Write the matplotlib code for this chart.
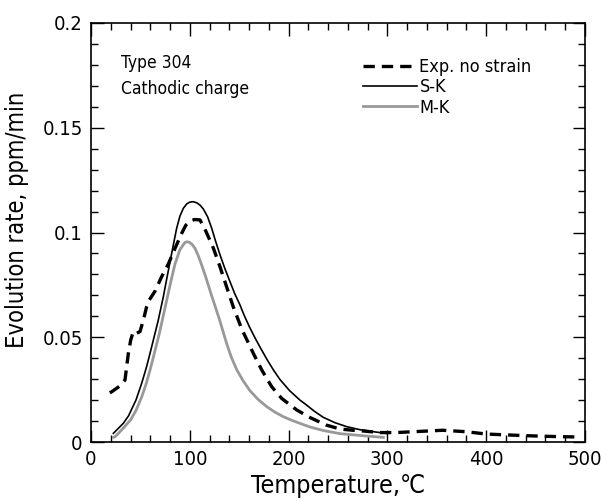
import matplotlib
matplotlib.use("Agg")
import matplotlib.pyplot as plt
from matplotlib.ticker import MultipleLocator

plt.rcParams['font.family'] = ['DejaVu Sans']
plt.rcParams['font.stretch'] = 'condensed'

# Exp. no strain
exp_x = [19, 21, 24.3, 30, 34.4, 36.1, 37.8, 40.2, 42.8, 46.3, 49.6, 53, 56.3, 59, 64.8, 71.5,
         78.3, 85, 91.8, 96, 100.2, 105, 110.3, 115.4, 123.8, 130.6, 137.3, 144, 152.5, 164.3,
         172.8, 182.9, 193, 208.2, 222, 238, 252, 265, 277, 292,
         309, 330, 356, 380, 400, 420, 448, 470, 492]
exp_y = [0.0235, 0.024, 0.0251, 0.027, 0.0296, 0.036, 0.0423, 0.0487, 0.0527, 0.0519, 0.0527,
         0.0582, 0.0646, 0.0678, 0.0720, 0.0789, 0.0850, 0.0924, 0.0996, 0.1035, 0.1055, 0.1062,
         0.1060, 0.1015, 0.0926, 0.0836, 0.0740, 0.0645, 0.0540, 0.0423, 0.0344, 0.0264, 0.0208,
         0.0153, 0.0116, 0.0081, 0.0062, 0.0056, 0.0052, 0.0045,
         0.0045, 0.0050, 0.0056, 0.0049, 0.0038, 0.0034, 0.0029, 0.0026, 0.0024]

# S-K
sk_x = [22.6, 27, 32.7, 38, 45.5, 51.3, 56.3, 60, 64.8, 68.1, 73.2, 76.5, 80, 83.5, 86.7, 90,
        93.4, 97, 100, 103.5, 107, 110.5, 113.7, 118, 122.2, 126, 130.6, 135.5, 140.7, 145.5,
        150.8, 155, 160, 166, 172, 178, 184.5, 191.3, 201, 211.5, 218, 226, 235, 247, 259, 272,
        286, 299]
sk_y = [0.0041, 0.0062, 0.0089, 0.0125, 0.020, 0.028, 0.036, 0.0428, 0.0519, 0.0582, 0.0693,
        0.0775, 0.086, 0.0945, 0.102, 0.1078, 0.1115, 0.1137, 0.1145, 0.1147, 0.1142, 0.1130,
        0.1112, 0.1075, 0.102, 0.0960, 0.0893, 0.0828, 0.0765, 0.0708, 0.0654, 0.0605, 0.0553,
        0.0497, 0.0445, 0.0395, 0.0345, 0.0298, 0.0245, 0.0200, 0.0177, 0.0147, 0.0118, 0.0092,
        0.0073, 0.0059, 0.0049, 0.0041]

# M-K
mk_x = [22.6, 24.3, 27.7, 33, 40, 45.5, 51.3, 56, 60.4, 65, 69.2, 74.9, 80, 85, 90, 95, 97.5,
        100, 102.5, 105.3, 108.5, 112, 115.5, 118.7, 122, 125.5, 130, 137.3, 142, 147.5, 154,
        160.9, 169, 177.8, 186, 194.6, 203, 211.5, 222, 235, 252, 275, 296]
mk_y = [0.0022, 0.0025, 0.0041, 0.0068, 0.0105, 0.0150, 0.0215, 0.0280, 0.0355, 0.0440, 0.0519,
        0.0640, 0.0749, 0.0850, 0.0918, 0.0952, 0.0956, 0.0952, 0.0942, 0.0924, 0.0890, 0.0845,
        0.0797, 0.0749, 0.0700, 0.0650, 0.0585, 0.0470, 0.0405, 0.0345, 0.0292, 0.0245, 0.0204,
        0.0169, 0.0143, 0.0121, 0.0104, 0.0089, 0.0071, 0.0055, 0.0040, 0.0030, 0.0022]

fig = plt.figure(figsize=(6.01, 4.99), dpi=100)
ax = fig.add_axes([91/601, 57/499, 494/601, 419/499])

ax.plot(sk_x, sk_y, color='black', lw=1.2, label='S-K')
ax.plot(mk_x, mk_y, color='#999999', lw=2.0, label='M-K')
ax.plot(exp_x, exp_y, color='black', lw=2.4, linestyle=(0, (3.4, 2.1)), label='Exp. no strain')

ax.set_xlim(0, 500)
ax.set_ylim(0, 0.2)
ax.xaxis.set_major_locator(MultipleLocator(100))
ax.xaxis.set_minor_locator(MultipleLocator(20))
ax.yaxis.set_major_locator(MultipleLocator(0.05))
ax.yaxis.set_minor_locator(MultipleLocator(0.01))
ax.set_yticks([0, 0.05, 0.1, 0.15, 0.2])
ax.set_yticklabels(['0', '0.05', '0.1', '0.15', '0.2'])
ax.tick_params(which='both', direction='in', top=True, right=True, labelsize=14.5, width=1.0)
ax.tick_params(which='major', length=9, pad=6)
ax.tick_params(which='minor', length=5)
for s in ax.spines.values():
    s.set_linewidth(1.2)

ax.set_xlabel('Temperature,\u2103', fontsize=18, labelpad=3)
ax.set_ylabel('Evolution rate, ppm/min', fontsize=17)
ax.yaxis.set_label_coords(-0.125, 0.53)

ax.text(0.06, 0.905, 'Type 304', transform=ax.transAxes, fontsize=12.5, va='center')
ax.text(0.06, 0.843, 'Cathodic charge', transform=ax.transAxes, fontsize=12.5, va='center')

h, l = ax.get_legend_handles_labels()
order = [2, 0, 1]
leg = ax.legend([h[i] for i in order], [l[i] for i in order], loc='upper left',
                bbox_to_anchor=(0.535, 0.933), frameon=False, fontsize=13,
                handlelength=3.0, handletextpad=0.15, labelspacing=0.12, borderaxespad=0)

fig.savefig('out.png', dpi=100)
